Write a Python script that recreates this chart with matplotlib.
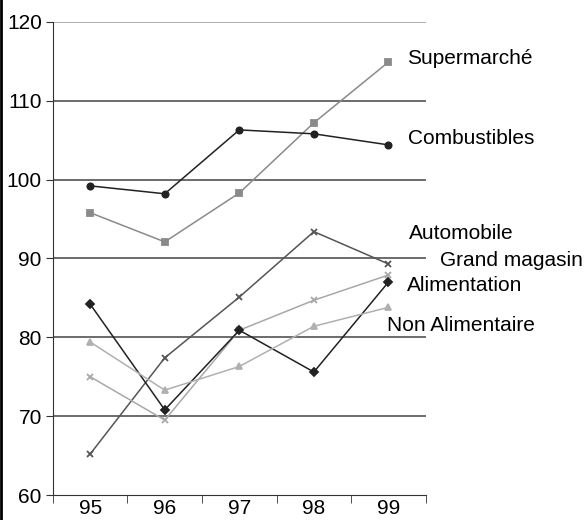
import matplotlib.pyplot as plt
from matplotlib.lines import Line2D

plt.rcParams['font.family'] = ['Liberation Sans', 'DejaVu Sans']

years = ['95', '96', '97', '98', '99']
supermarche = [95.8, 92.1, 98.3, 107.2, 114.9]
combustibles = [99.2, 98.2, 106.3, 105.8, 104.4]
automobile = [65.2, 77.4, 85.1, 93.4, 89.3]
grand_magasin = [75.0, 69.5, 80.9, 84.7, 87.9]
alimentation = [84.2, 70.8, 80.9, 75.6, 87.0]
non_alimentaire = [79.4, 73.3, 76.3, 81.4, 83.8]

x = list(range(len(years)))

fig = plt.figure(figsize=(5.88, 5.2), dpi=100)
ax = fig.add_axes([0.090, 0.048, 0.634, 0.910])

for yv in [70, 80, 90, 100, 110]:
    ax.axhline(yv, color='#444444', lw=1.1, zorder=1)
ax.axhline(120, color='#999999', lw=1.1, zorder=1)

series = [
    (supermarche, '#8a8a8a', 's', 4.5, 'Supermarché', (4.245, 115.4)),
    (combustibles, '#222222', 'o', 4.5, 'Combustibles', (4.26, 105.2)),
    (automobile, '#555555', 'x', 5, 'Automobile', (4.27, 93.1)),
    (grand_magasin, '#a8a8a8', 'x', 5, 'Grand magasin', (4.69, 89.8)),
    (alimentation, '#222222', 'D', 4, 'Alimentation', (4.245, 86.6)),
    (non_alimentaire, '#b0b0b0', '^', 5, 'Non Alimentaire', (3.98, 81.5)),
]

for vals, col, mk, ms, name, pos in series:
    ax.plot(x, vals, color=col, lw=1.1, marker=mk, markersize=ms,
            markeredgewidth=1.3, zorder=3)
    ax.text(pos[0], pos[1], name, fontsize=15, va='center', ha='left',
            clip_on=False)

ax.set_xlim(-0.5, 4.5)
ax.set_ylim(60, 120)
ax.set_yticks([60, 70, 80, 90, 100, 110, 120])
ax.tick_params(axis='y', labelsize=15, length=5, direction='out', color='#333333', pad=3)
ax.set_xticks(x)
ax.set_xticklabels(years)
ax.set_xticks([-0.5, 0.5, 1.5, 2.5, 3.5, 4.5], minor=True)
ax.tick_params(axis='x', which='major', length=0, labelsize=15, pad=3)
ax.tick_params(axis='x', which='minor', length=6, direction='out', color='#333333')

ax.spines['right'].set_visible(False)
ax.spines['top'].set_visible(False)
ax.spines['left'].set_color('#333333')
ax.spines['bottom'].set_color('#333333')

fig.add_artist(Line2D([0.002, 0.002], [0, 1], color='black', lw=2))

fig.savefig('out.png', dpi=100)
